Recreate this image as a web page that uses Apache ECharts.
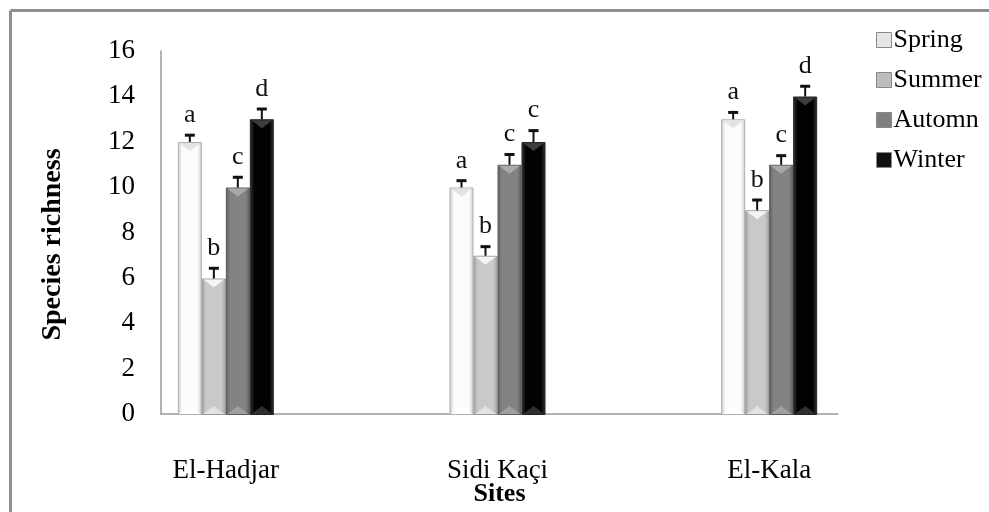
<!DOCTYPE html>
<html>
<head>
<meta charset="utf-8">
<style>html,body{margin:0;padding:0;background:#fff;}#c{width:989px;height:512px;}</style>
<script src="https://cdn.jsdelivr.net/npm/echarts@6/dist/echarts.min.js"></script>
</head>
<body>
<div id="c"></div>
<script>
const categories = ['El-Hadjar', 'Sidi Kaçi', 'El-Kala'];
const seasons = ['Spring', 'Summer', 'Automn', 'Winter'];
const yTicks = [0, 2, 4, 6, 8, 10, 12, 14, 16];

const spring = [12, 10, 13];
const summer = [6, 7, 9];
const autumn = [10, 11, 11];
const winter = [13, 12, 14];

const springErr = [0.3, 0.3, 0.3];
const summerErr = [0.45, 0.4, 0.45];
const autumnErr = [0.45, 0.45, 0.4];
const winterErr = [0.45, 0.5, 0.45];

const springLetters = ['a', 'a', 'a'];
const summerLetters = ['b', 'b', 'b'];
const autumnLetters = ['c', 'c', 'c'];
const winterLetters = ['d', 'c', 'd'];

const values = [spring, summer, autumn, winter];
const errs = [springErr, summerErr, autumnErr, winterErr];
const letters = [springLetters, summerLetters, autumnLetters, winterLetters];

function grad(edge, mid) {
  return new echarts.graphic.LinearGradient(0, 0, 1, 0, [
    {offset: 0, color: edge}, {offset: 0.18, color: mid},
    {offset: 0.82, color: mid}, {offset: 1, color: edge}
  ]);
}
const fills = [grad('#c8c8c8', '#fbfbfb'), grad('#a2a2a2', '#c9c9c9'), grad('#5e5e5e', '#838383'), grad('#3a3a3a', '#020202')];
const borders = ['#b0b0b0', '#9a9a9a', '#5a5a5a', '#222'];
const topBevel = ['#e2e2e2', '#f4f4f4', '#a9a9a9', '#3c3c3c'];
const bottomBevel = ['#ffffff', '#e2e2e2', '#a0a0a0', '#2e2e2e'];
const legendColors = ['#e6e6e6', '#bdbdbd', '#808080', '#111'];

const BAR_W = 24;
const FONT = '"Liberation Serif", "Times New Roman", serif';

const chart = echarts.init(document.getElementById('c'), null, {renderer: 'canvas'});

const series = [];
seasons.forEach((s, i) => {
  series.push({
    name: s, type: 'bar', xAxisIndex: 0, yAxisIndex: 0,
    barWidth: BAR_W, barGap: '0%',
    data: values[i],
    itemStyle: {color: fills[i], borderColor: borders[i], borderWidth: 1},
    emphasis: {disabled: true}
  });
});
seasons.forEach((s, i) => {
  series.push({
    type: 'custom', xAxisIndex: 0, yAxisIndex: 0, z: 5, silent: true,
    data: values[i].map((v, k) => [k, v, errs[i][k]]),
    renderItem: function (params, api) {
      const k = api.value(0), v = api.value(1), e = api.value(2);
      const letter = letters[i][k];
      const base = api.coord([k, v]);
      const zero = api.coord([k, 0]);
      const cap = api.coord([k, v + e]);
      const x = base[0] + (i - 1.5) * BAR_W;
      const h = BAR_W / 2 - 1.5;
      return {
        type: 'group',
        children: [
          {type: 'polygon', shape: {points: [[x - h, base[1] + 1], [x + h, base[1] + 1], [x, base[1] + 9]]}, style: {fill: topBevel[i]}},
          {type: 'polygon', shape: {points: [[x - h, zero[1] - 1], [x + h, zero[1] - 1], [x, zero[1] - 9]]}, style: {fill: bottomBevel[i]}},
          {type: 'line', shape: {x1: x, y1: base[1], x2: x, y2: cap[1]}, style: {stroke: '#111', lineWidth: 2}},
          {type: 'line', shape: {x1: x - 5, y1: cap[1], x2: x + 5, y2: cap[1]}, style: {stroke: '#111', lineWidth: 3}},
          {type: 'text', x: x, y: cap[1] - 7, style: {text: letter, fill: '#111', font: '26px ' + FONT, textAlign: 'center', textVerticalAlign: 'bottom'}}
        ]
      };
    }
  });
});

chart.setOption({
  animation: false,
  backgroundColor: '#fff',
  legend: {
    data: seasons.map((s, i) => ({name: s, icon: 'rect', itemStyle: {color: legendColors[i], borderColor: '#888', borderWidth: 1}})),
    orient: 'vertical', left: 871, top: 22, itemGap: 14, itemWidth: 15, itemHeight: 15,
    textStyle: {fontFamily: FONT, fontSize: 26, color: '#000', padding: [0, 0, 0, -3]},
    selectedMode: false
  },
  grid: [
    {left: 90, right: 84, top: 51, bottom: 97},
    {left: 161, right: 151, top: 51, bottom: 97}
  ],
  xAxis: [
    {type: 'category', gridIndex: 0, data: categories,
     axisLine: {show: false}, axisTick: {show: false},
     axisLabel: {fontFamily: FONT, fontSize: 27, color: '#000', margin: 42}},
    {type: 'value', gridIndex: 1, min: 0, max: 1,
     axisLine: {show: true, lineStyle: {color: '#9a9a9a', width: 1.5}}, axisTick: {show: false},
     axisLabel: {show: false}, splitLine: {show: false},
     name: 'Sites', nameLocation: 'middle', nameGap: 67,
     nameTextStyle: {fontFamily: FONT, fontSize: 26, fontWeight: 'bold', color: '#000'}}
  ],
  yAxis: [
    {type: 'value', gridIndex: 0, min: 0, max: 16, interval: 2, show: false},
    {type: 'value', gridIndex: 1, min: yTicks[0], max: yTicks[yTicks.length - 1], interval: 2,
     axisLine: {show: true, lineStyle: {color: '#9a9a9a', width: 1.5}}, axisTick: {show: false},
     splitLine: {show: false},
     axisLabel: {fontFamily: FONT, fontSize: 27, color: '#000', margin: 26},
     name: 'Species richness', nameLocation: 'middle', nameGap: 94,
     nameTextStyle: {fontFamily: FONT, fontSize: 28, fontWeight: 'bold', color: '#000', padding: [0, 24, 0, 0]}}
  ],
  graphic: [
    {type: 'line', shape: {x1: 10.5, y1: 10.5, x2: 989, y2: 10.5}, style: {stroke: '#8e8e8e', lineWidth: 3}, silent: true},
    {type: 'line', shape: {x1: 10.5, y1: 10.5, x2: 10.5, y2: 512}, style: {stroke: '#8e8e8e', lineWidth: 3}, silent: true}
  ],
  series: series
});
</script>
</body>
</html>
